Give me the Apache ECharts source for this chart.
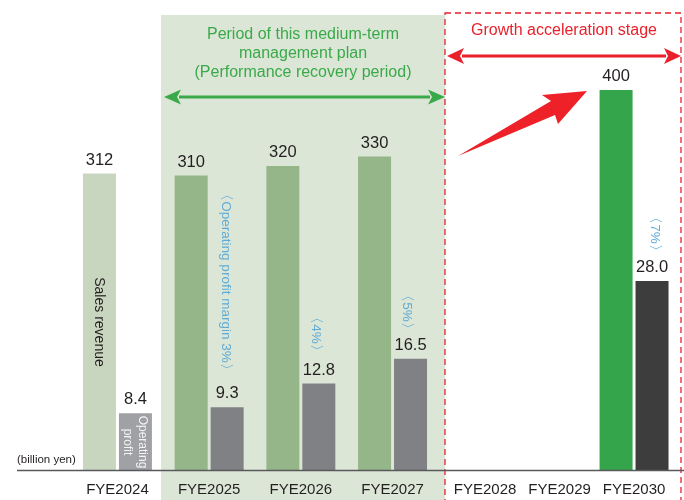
<!DOCTYPE html>
<html>
<head>
<meta charset="utf-8">
<script src="https://cdn.jsdelivr.net/npm/echarts@6/dist/echarts.min.js"></script>
<style>
	html,body{margin:0;padding:0;background:#fff;}
	#main{width:684px;height:500px;}
</style>
</head>
<body>
<div id="main"></div>
<script>
// data (billion yen)
var years = ['FYE2024','FYE2025','FYE2026','FYE2027','FYE2028','FYE2029','FYE2030'];
var salesRevenue = [312, 310, 320, 330, null, null, 400];
var operatingProfit = [8.4, 9.3, 12.8, 16.5, null, null, 28.0];
var splitAt = 4; // FYE2028 onward is the growth acceleration stage

var salesColors = ['#c9d6bf','#94b689','#94b689','#94b689','','','#35a54b'];
var profitColors = ['#a0a1a4','#808184','#808184','#808184','','','#3d3d3d'];
var labelColor = '#231f20';
var fontName = '"Liberation Sans", Arial, Helvetica, sans-serif';

$ready();
function $ready(){
	var chart = echarts.init(document.getElementById('main'), null, {renderer:'canvas'});
	chart.setOption(buildOption());
}

function barSeries(name, data, offset, xIdx, yIdx, colors, fmt){
	return {
		name: name,
		type: 'bar',
		xAxisIndex: xIdx,
		yAxisIndex: yIdx,
		barWidth: 33,
		barGap: '9%',
		data: data,
		animation: false,
		itemStyle: {
			color: function(p){ return colors[p.dataIndex + offset]; }
		},
		label: {
			show: true,
			position: 'top',
			distance: 5,
			color: labelColor,
			fontSize: 16.5,
			fontFamily: fontName,
			formatter: function(p){ return fmt(p.value); }
		}
	};
}

function rotText(x, y, text, color, size, lh){
	return {
		type: 'text', x: x, y: y, rotation: -Math.PI/2, z: 100,
		style: {text: text, fill: color, font: size + 'px ' + fontName,
			textAlign: 'center', textVerticalAlign: 'middle', lineHeight: lh || size}
	};
}

function doubleArrow(x1, x2, y, color, w, headLen, headHalf){
	return [
		{type:'line', z:10, shape:{x1:x1+headLen-2, y1:y, x2:x2-headLen+2, y2:y}, style:{stroke:color, lineWidth:w}},
		{type:'polygon', z:10, shape:{points:[[x1,y],[x1+headLen,y-headHalf],[x1+headLen-4,y],[x1+headLen,y+headHalf]]}, style:{fill:color}},
		{type:'polygon', z:10, shape:{points:[[x2,y],[x2-headLen,y-headHalf],[x2-headLen+4,y],[x2-headLen,y+headHalf]]}, style:{fill:color}}
	];
}

function buildOption(){
	var salesFmt = function(v){ return String(v); };
	var profitFmt = function(v){ return v.toFixed(1); };
	var salesMax = 400, profitMax = 56.3;
	var yAxes = [];
	for (var g = 0; g < 2; g++){
		yAxes.push({type:'value', gridIndex:g, min:0, max:salesMax, show:false});
		yAxes.push({type:'value', gridIndex:g, min:0, max:profitMax, show:false});
	}
	var axisLabel = {color: labelColor, fontSize: 15, fontFamily: fontName, margin: 12, interval: 0};
	var graphic = [
		// medium-term plan band
		{type:'rect', z:-10, shape:{x:161, y:15, width:284, height:490}, style:{fill:'#dce6d6'}},
		// growth stage dashed box
		{type:'rect', z:5, shape:{x:445, y:13, width:236, height:500}, style:{fill:'none', stroke:'#e8212b', lineWidth:1.3, lineDash:[6,4]}},
		// baseline
		{type:'line', z:20, shape:{x1:17, y1:470.5, x2:684, y2:470.5}, style:{stroke:'#58595b', lineWidth:1.5}},
		{type:'text', x:17, y:460, z:20, style:{text:'(billion yen)', fill:labelColor, font:'11.5px ' + fontName, textVerticalAlign:'middle'}},
		{type:'text', x:303, y:25, z:20, style:{text:'Period of this medium-term\nmanagement plan\n(Performance recovery period)', fill:'#3aa94a', font:'16px ' + fontName, textAlign:'center', textVerticalAlign:'top', lineHeight:19}},
		{type:'text', x:564, y:31, z:20, style:{text:'Growth acceleration stage', fill:'#e8212b', font:'16px ' + fontName, textAlign:'center', textVerticalAlign:'middle'}},
		// big red arrow toward FYE2030
		{type:'polygon', z:20, shape:{points:[[458,156],[551,101],[542,95],[587,91],[558,124],[555,115]]}, style:{fill:'#ee2128'}},
		rotText(99, 322, 'Sales revenue', labelColor, 14),
		rotText(135, 442, 'Operating\nprofit', '#f4f4f4', 12, 15),
		rotText(226, 282, '〈Operating profit margin 3%〉', '#5fabd7', 13.5),
		rotText(316, 334, '〈4%〉', '#5fabd7', 13.5),
		rotText(407, 312, '〈5%〉', '#5fabd7', 13.5),
		rotText(655, 234, '〈7%〉', '#5fabd7', 13.5)
	];
	graphic = graphic.concat(doubleArrow(164, 445, 97, '#3aa94a', 3, 17, 7.5));
	graphic = graphic.concat(doubleArrow(447, 681, 56, '#e8212b', 3, 17, 8));
	return {
		backgroundColor: '#fff',
		animation: false,
		grid: [
			{left: 71.6, width: 366.8, top: 90, bottom: 30},
			{left: 447.8, width: 223.5, top: 90, bottom: 30}
		],
		xAxis: [
			{type:'category', gridIndex:0, data: years.slice(0, splitAt), axisLine:{show:false}, axisTick:{show:false}, axisLabel: axisLabel},
			{type:'category', gridIndex:1, data: years.slice(splitAt), axisLine:{show:false}, axisTick:{show:false}, axisLabel: axisLabel}
		],
		yAxis: yAxes,
		series: [
			barSeries('Sales revenue', salesRevenue.slice(0, splitAt), 0, 0, 0, salesColors, salesFmt),
			barSeries('Operating profit', operatingProfit.slice(0, splitAt), 0, 0, 1, profitColors, profitFmt),
			barSeries('Sales revenue', salesRevenue.slice(splitAt), splitAt, 1, 2, salesColors, salesFmt),
			barSeries('Operating profit', operatingProfit.slice(splitAt), splitAt, 1, 3, profitColors, profitFmt)
		],
		graphic: graphic
	};
}
</script>
</body>
</html>
